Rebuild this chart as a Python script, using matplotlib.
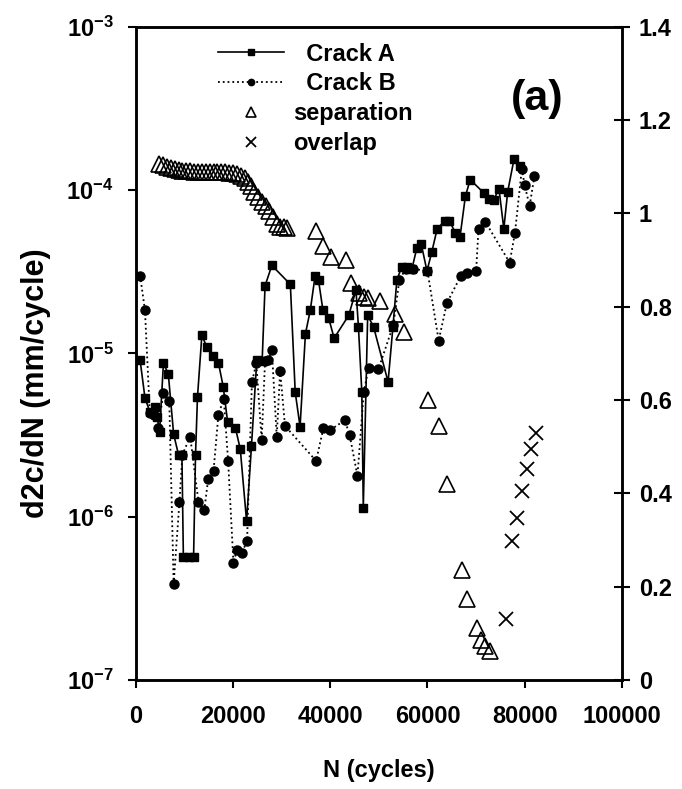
import matplotlib
matplotlib.use("Agg")
import matplotlib.pyplot as plt
from matplotlib.ticker import FixedLocator, FuncFormatter, NullLocator
import numpy as np

plt.rcParams['font.family'] = ['Liberation Sans', 'DejaVu Sans']
plt.rcParams['font.weight'] = 'bold'
plt.rcParams['mathtext.fontset'] = 'custom'
plt.rcParams['mathtext.bf'] = 'Liberation Sans:bold'
plt.rcParams['mathtext.rm'] = 'Liberation Sans:bold'

# Crack A growth rate (left axis)
n_a = [900, 1900, 2900, 3900, 4400, 4900, 5700, 6700, 7800, 8800, 9500,
       9800, 10900, 11900, 12300, 12700, 13600, 14600, 15900, 17000, 18000,
       18900, 20500, 21500, 22800, 23800, 24900, 26000, 26600, 28000, 31800,
       32800, 33800, 34900, 35900, 36900, 37600, 38500, 39700, 40800, 43800,
       45300, 45800, 46500, 46800, 47700, 48900, 51900, 52900, 53700, 54700,
       55800, 56800, 57800, 58700, 59900, 60900, 62000, 63600, 64500, 65700,
       66700, 67800, 68800, 71600, 72600, 73600, 74700, 75700, 76500, 77800,
       79000]
rate_a = [9.1e-6, 5.35e-6, 4.4e-6, 4.7e-6, 4.1e-6, 3.3e-6, 8.7e-6, 7.5e-6, 3.2e-6, 2.4e-6, 2.4e-6,
          5.7e-7, 5.7e-7, 5.7e-7, 2.4e-6, 5.4e-6, 1.29e-5, 1.1e-5, 9.6e-6, 8.8e-6, 6.25e-6,
          3.8e-6, 3.5e-6, 2.6e-6, 9.4e-7, 2.7e-6, 9.1e-6, 9.0e-6, 2.6e-5, 3.46e-5, 2.65e-5,
          5.8e-6, 3.56e-6, 1.32e-5, 1.84e-5, 3.0e-5, 2.8e-5, 1.84e-5, 1.64e-5, 1.24e-5, 1.71e-5,
          2.44e-5, 1.46e-5, 5.8e-6, 1.14e-6, 1.71e-5, 1.46e-5, 6.7e-6, 1.46e-5, 2.8e-5, 3.4e-5,
          3.4e-5, 3.3e-5, 4.4e-5, 4.7e-5, 3.2e-5, 4.2e-5, 5.8e-5, 6.5e-5, 6.5e-5, 5.5e-5,
          5.2e-5, 9.2e-5, 1.16e-4, 9.6e-5, 8.8e-5, 8.7e-5, 1.02e-4, 5.8e-5, 9.8e-5, 1.55e-4,
          1.4e-4]

# Crack B growth rate (left axis)
n_b = [900, 1900, 2900, 3800, 4600, 5700, 6900, 7800, 9000, 9600,
       11200, 12900, 14100, 14900, 16000, 17000, 18100, 19000, 20100, 20800,
       21800, 22900, 23900, 24800, 25900, 26600, 27300, 28000, 29000, 29700,
       30700, 37100, 38600, 40000, 43000, 44000, 45600, 46900, 47900, 49900,
       53000, 54200, 55500, 57000, 60000, 62300, 64000, 66900, 68100, 70000,
       70500, 71900, 76900, 78000, 79400, 80000, 81000, 82000]
rate_b = [3.0e-5, 1.84e-5, 4.3e-6, 4.2e-6, 3.5e-6, 5.7e-6, 5.1e-6, 3.9e-7, 1.24e-6, 2.4e-6,
          3.1e-6, 1.24e-6, 1.1e-6, 1.7e-6, 1.9e-6, 4.2e-6, 5.3e-6, 2.2e-6, 5.2e-7, 6.3e-7,
          6.0e-7, 7.1e-7, 6.7e-6, 8.7e-6, 2.95e-6, 9.0e-6, 9.1e-6, 1.05e-5, 3.1e-6, 7.8e-6,
          3.6e-6, 2.2e-6, 3.5e-6, 3.4e-6, 3.9e-6, 3.16e-6, 1.78e-6, 5.8e-6, 8.2e-6, 8.0e-6,
          1.5e-5, 2.8e-5, 3.3e-5, 3.3e-5, 3.2e-5, 1.2e-5, 2.04e-5, 3.0e-5, 3.1e-5, 3.2e-5,
          5.8e-5, 6.4e-5, 3.6e-5, 5.5e-5, 1.35e-4, 1.07e-4, 8.0e-5, 1.22e-4]

# separation and overlap (right axis)
n_sep = [4800, 5600, 6400, 7200, 8000, 8800, 9600, 10400, 11200, 12000,
         12800, 13600, 14400, 15200, 16000, 16800, 17600, 18400, 19200, 20000,
         20800, 21600, 22400, 23000, 23700, 24400, 25100, 25900, 26700, 27500,
         28300, 29000, 29700, 30400, 31100,
         37100, 38600, 40100, 43300, 44200, 45900, 46900, 47800, 50200, 53300,
         55100, 60200, 62300, 64100, 67100, 68100, 70200, 71000, 71900, 72800]
sep = [1.105, 1.103, 1.100, 1.098, 1.095, 1.093, 1.092, 1.090, 1.090, 1.089,
       1.089, 1.088, 1.088, 1.088, 1.088, 1.088, 1.088, 1.088, 1.087, 1.086,
       1.084, 1.081, 1.076, 1.068, 1.058, 1.046, 1.035, 1.025, 1.015, 1.005,
       0.993, 0.978, 0.972, 0.970, 0.969,
       0.962, 0.930, 0.907, 0.900, 0.850, 0.830, 0.820, 0.818, 0.812, 0.785,
       0.745, 0.600, 0.544, 0.421, 0.237, 0.174, 0.111, 0.086, 0.073, 0.063]

n_ov = [76200, 77400, 78400, 79400, 80400, 81300, 82400]
ov = [0.130, 0.298, 0.348, 0.406, 0.453, 0.496, 0.529]

fs = 17

fig = plt.figure(figsize=(6.82, 7.89), dpi=100)
ax = fig.add_axes([0.199, 0.138, 0.713, 0.828])
ax2 = ax.twinx()

la, = ax.plot(n_a, rate_a, color='black', lw=1.2, marker='s', ms=5.5)
lb, = ax.plot(n_b, rate_b, color='black', lw=1.3, ls=':', marker='o', ms=6.5)
ax.set_yscale('log')
ax.set_ylim(1e-7, 1e-3)
ax.set_xlim(0, 100000)
ax.yaxis.set_major_locator(FixedLocator([1e-7, 1e-6, 1e-5, 1e-4, 1e-3]))
ax.yaxis.set_minor_locator(NullLocator())
ax.yaxis.set_major_formatter(FuncFormatter(lambda v, p: r'$\mathbf{10^{%d}}$' % round(np.log10(v))))
ax.set_xticks([0, 20000, 40000, 60000, 80000, 100000])

ls, = ax2.plot(n_sep, sep, ls='none', marker='^', ms=11, mfc='none', mec='black', mew=1.2)
lo, = ax2.plot(n_ov, ov, ls='none', marker='x', ms=10, color='black', mew=1.3)
ax2.set_ylim(0, 1.4)
ax2.set_yticks([0, 0.2, 0.4, 0.6, 0.8, 1.0, 1.2, 1.4])
ax2.set_yticklabels(['0', '0.2', '0.4', '0.6', '0.8', '1', '1.2', '1.4'])

for a in (ax, ax2):
    for s in a.spines.values():
        s.set_linewidth(1.8)
ax.tick_params(axis='x', direction='out', length=6, width=1.5, labelsize=fs, pad=12)
ax.tick_params(axis='y', direction='out', length=6, width=1.5, labelsize=fs, pad=10)
ax2.tick_params(axis='y', direction='inout', length=12, width=1.5, labelsize=fs, pad=6)

ax.set_xlabel('N (cycles)', fontsize=fs, fontweight='bold', labelpad=22)
ax.set_ylabel('d2c/dN (mm/cycle)', fontsize=22, fontweight='bold')
ax.yaxis.set_label_coords(-0.175, 0.455)

ax2.text(0.826, 0.89, '(a)', transform=ax2.transAxes, fontsize=31, fontweight='bold',
         ha='center', va='center')

ax2.legend([la, lb, ls, lo], ['  Crack A', '  Crack B', 'separation', 'overlap'],
           loc='upper left', bbox_to_anchor=(0.17, 0.976), frameon=False, fontsize=fs,
           borderpad=0, borderaxespad=0, handlelength=2.8, handletextpad=0.35,
           labelspacing=0.29, markerscale=0.7)

fig.savefig('out.png', dpi=100)
